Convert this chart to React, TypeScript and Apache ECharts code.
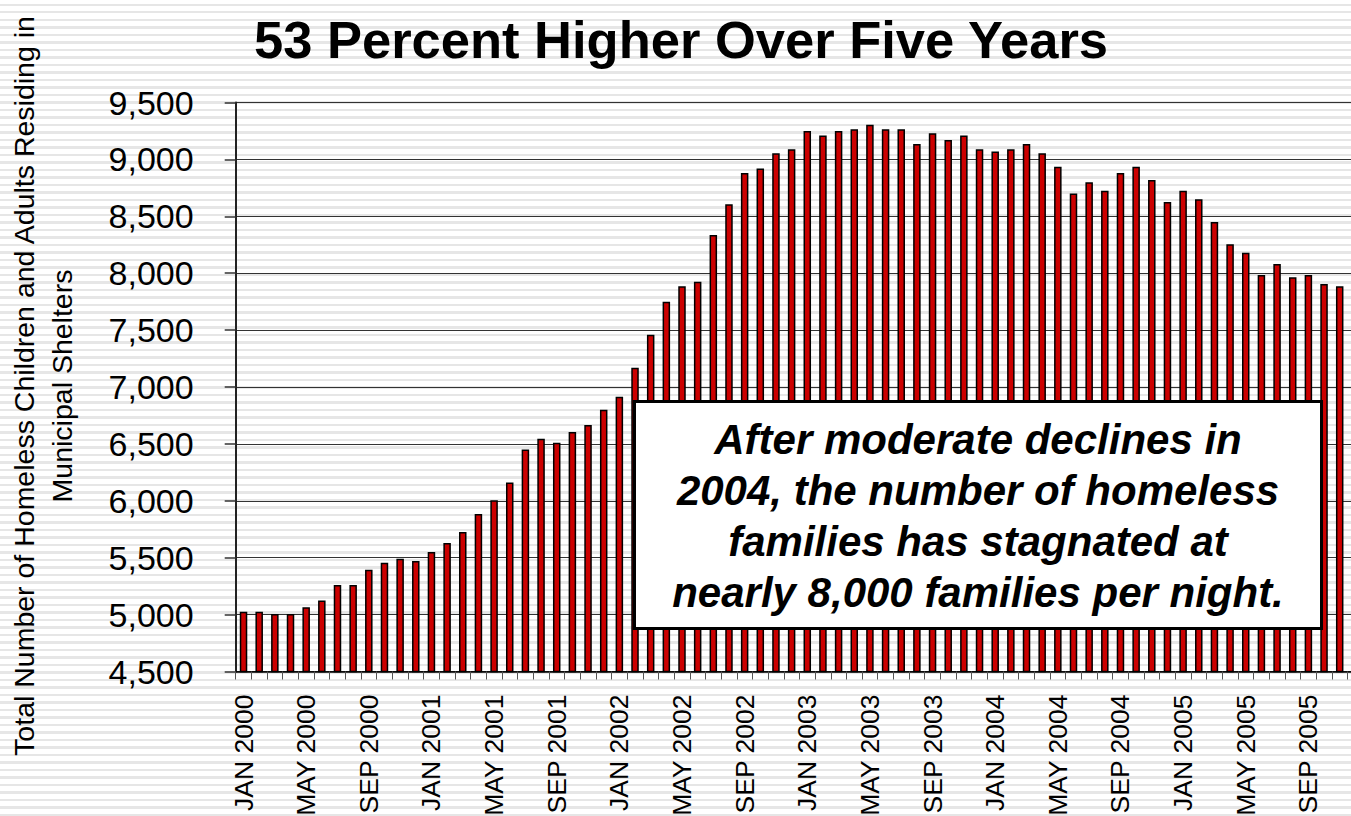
import React, { useEffect, useRef } from "react";
import * as echarts from "echarts";

const MONTHS = ["JAN", "FEB", "MAR", "APR", "MAY", "JUN", "JUL", "AUG", "SEP", "OCT", "NOV", "DEC"];
const YEARS = [2000, 2001, 2002, 2003, 2004, 2005];
const categories = YEARS.flatMap((y) => MONTHS.map((m) => `${m} ${y}`));

const values2000 = [5025, 5025, 5005, 5005, 5065, 5125, 5260, 5260, 5395, 5455, 5490, 5470];
const values2001 = [5550, 5630, 5725, 5885, 6005, 6160, 6450, 6545, 6510, 6605, 6665, 6800];
const values2002 = [6915, 7170, 7460, 7750, 7885, 7925, 8335, 8605, 8880, 8920, 9055, 9090];
const values2003 = [9250, 9210, 9250, 9265, 9305, 9265, 9265, 9135, 9230, 9170, 9210, 9090];
const values2004 = [9070, 9090, 9135, 9055, 8935, 8700, 8800, 8725, 8880, 8935, 8820, 8625];
const values2005 = [8725, 8650, 8450, 8255, 8180, 7985, 8080, 7965, 7985, 7905, 7885, 7720];
const shelterTotals = [...values2000, ...values2001, ...values2002, ...values2003, ...values2004, ...values2005];

const Y_MIN = 4500;
const Y_MAX = 9500;
const Y_STEP = 500;

const TITLE = "53 Percent Higher Over Five Years";
const Y_NAME_LINES = ["Total Number of Homeless Children and Adults Residing in", "Municipal Shelters"];
const NOTE_LINES = [
  "After moderate declines in",
  "2004, the number of homeless",
  "families has stagnated at",
  "nearly 8,000 families per night.",
];

const FONT = "'Liberation Sans', Arial, Helvetica, sans-serif";
const CHART_W = 1364;
const CHART_H = 816;

function fmt(v: number): string {
  return String(v).replace(/\B(?=(\d{3})+(?!\d))/g, ",");
}

export default function App() {
  const ref = useRef<HTMLDivElement>(null);

  useEffect(() => {
    if (!ref.current) return;
    const chart = echarts.init(ref.current, undefined, { renderer: "svg" });
    const option: any = {
      animation: false,
      backgroundColor: "transparent",
      grid: {
        left: 235.7,
        right: CHART_W - 1363.2,
        top: 102.5,
        bottom: CHART_H - 671.5,
        containLabel: false,
        outerBoundsMode: "none",
      },
      xAxis: {
        type: "category",
        data: categories,
        boundaryGap: true,
        axisLine: { show: true, lineStyle: { color: "#000", width: 1.5 } },
        axisTick: { show: true, interval: 0, length: 8, lineStyle: { color: "#555", width: 1 } },
        axisLabel: {
          interval: 3,
          rotate: 90,
          margin: 23,
          fontSize: 26.5,
          color: "#000",
          fontFamily: FONT,
        },
        splitLine: { show: false },
      },
      yAxis: {
        type: "value",
        min: Y_MIN,
        max: Y_MAX,
        interval: Y_STEP,
        axisLine: { show: true, lineStyle: { color: "#222", width: 2 } },
        axisTick: { show: true, length: 11, lineStyle: { color: "#333", width: 1.5 } },
        axisLabel: {
          margin: 42,
          fontSize: 34,
          color: "#000",
          fontFamily: FONT,
          formatter: (v: number) => fmt(v),
        },
        splitLine: { show: true, lineStyle: { color: "#333", width: 1 } },
      },
      series: [
        {
          type: "bar",
          data: shelterTotals,
          barWidth: 7.5,
          itemStyle: { color: "#cc0000", borderColor: "#000", borderWidth: 1.5 },
        },
      ],
      graphic: [
        {
          type: "text",
          x: 681,
          y: 39.5,
          z: 100,
          style: {
            text: TITLE,
            fontSize: 52.5,
            fontWeight: "bold",
            fontFamily: FONT,
            fill: "#000",
            align: "center",
            verticalAlign: "middle",
          },
        },
        {
          type: "text",
          x: 43,
          y: 386,
          rotation: Math.PI / 2,
          z: 100,
          style: {
            text: Y_NAME_LINES.join("\n"),
            fontSize: 28.5,
            fontFamily: FONT,
            fill: "#000",
            align: "center",
            verticalAlign: "middle",
            lineHeight: 38,
          },
        },
        {
          type: "rect",
          z: 100,
          shape: { x: 634.5, y: 401.5, width: 687, height: 227 },
          style: { fill: "#fff", stroke: "#000", lineWidth: 3 },
        },
        {
          type: "text",
          x: 978,
          y: 516,
          z: 101,
          style: {
            text: NOTE_LINES.join("\n"),
            fontSize: 42,
            fontWeight: "bold",
            fontStyle: "italic",
            fontFamily: FONT,
            fill: "#000",
            align: "center",
            verticalAlign: "middle",
            lineHeight: 51,
          },
        },
      ],
    };
    chart.setOption(option);
    return () => chart.dispose();
  }, []);

  return (
    <div
      style={{
        position: "fixed",
        left: 0,
        top: 0,
        width: 1351,
        height: 816,
        overflow: "hidden",
        background:
          "repeating-linear-gradient(to bottom, #ffffff 0px, #ffffff 3.5px, #e6e6e6 3.5px, #e6e6e6 6px, #ffffff 6px, #ffffff 7.5px)",
      }}
    >
      <div ref={ref} style={{ width: CHART_W, height: CHART_H }} />
    </div>
  );
}
